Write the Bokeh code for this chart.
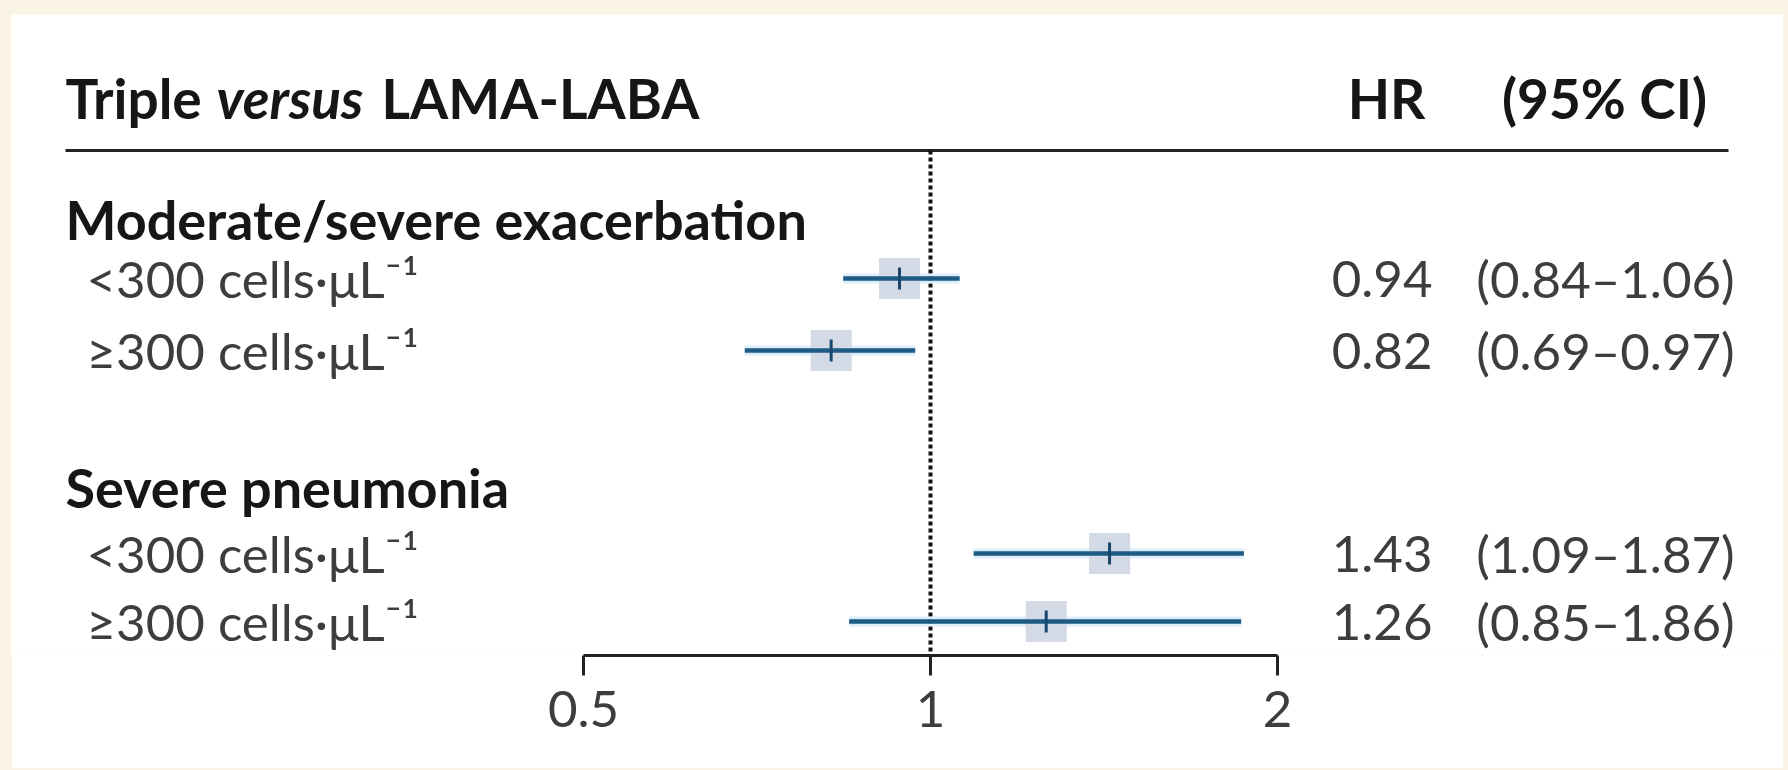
import numpy as np
from bokeh.plotting import figure
from bokeh.models import (Range1d, FixedTicker, ColumnDataSource,
                          CustomJSTickFormatter, GlobalInlineStyleSheet)
from bokeh.core.properties import value
from bokeh.embed import file_html
from bokeh.resources import INLINE

# ---------------- data ----------------
title_parts = ["Triple", "versus", "LAMA-LABA"]
col_headers = ["HR", "(95% CI)"]
groups = ["Moderate/severe exacerbation", "Severe pneumonia"]
subgroups = ["<300 cells·μL⁻¹", "≥300 cells·μL⁻¹",
             "<300 cells·μL⁻¹", "≥300 cells·μL⁻¹"]
hr = [0.94, 0.82, 1.43, 1.26]
ci_low = [0.84, 0.69, 1.09, 0.85]
ci_high = [1.06, 0.97, 1.87, 1.86]
hr_labels = ["0.94", "0.82", "1.43", "1.26"]
ci_labels = ["(0.84–1.06)", "(0.69–0.97)", "(1.09–1.87)", "(0.85–1.86)"]
axis_ticks = [0.5, 1, 2]
null_value = 1

# ---------------- layout (page pixels) ----------------
W, H = 1772, 754
OFF_X, OFF_Y = 11, 14                     # body padding (cream edge)
X_LO_PAGE, X_HI_PAGE = 583, 1277          # where 0.5 and 2 sit
AXIS_Y = 655
PPD = (X_HI_PAGE - X_LO_PAGE) / np.log2(axis_ticks[-1] / axis_ticks[0])


def page_to_x(px):
    return axis_ticks[0] * 2 ** ((px - X_LO_PAGE) / PPD)


row_y = [278, 350, 553, 621]
TXT_SHIFT = -18
group_base = [237 + TXT_SHIFT, 505 + TXT_SHIFT]
title_base = 115 + TXT_SHIFT
rule_y = 150
FONT = "Lato"
INK = "#161616"
GREY = "#3d3d3d"
CREAM = "#faf4e4"
F_TITLE, F_GROUP, F_TEXT = "55px", "54px", "51px"

p = figure(width=W, height=H, x_axis_type="log",
           x_range=Range1d(page_to_x(OFF_X), page_to_x(OFF_X + W)),
           y_range=Range1d(AXIS_Y, OFF_Y),
           y_axis_location=None, toolbar_location=None,
           output_backend="svg", min_border_left=0, min_border_right=0,
           min_border_top=0, min_border_bottom=H - (AXIS_Y - OFF_Y),
           background_fill_color="white", border_fill_color="white",
           outline_line_color=None)
p.stylesheets.append(GlobalInlineStyleSheet(
    css=f"html, body {{ background: {CREAM}; }} "
        f"body {{ margin: 0; padding: {OFF_Y}px 0 0 {OFF_X}px; }}"))
p.xgrid.visible = False
p.ygrid.visible = False

ax = p.xaxis[0]
ax.ticker = FixedTicker(ticks=axis_ticks, minor_ticks=[])
ax.formatter = CustomJSTickFormatter(code="return tick.toString()")
ax.bounds = (axis_ticks[0], axis_ticks[-1])
ax.axis_line_width = 3
ax.axis_line_color = "#222222"
ax.major_tick_line_width = 3
ax.major_tick_line_color = "#222222"
ax.major_tick_out = 20
ax.major_tick_in = 0
ax.minor_tick_line_color = None
ax.major_label_text_font = FONT
ax.major_label_text_font_size = F_TEXT
ax.major_label_text_color = GREY
ax.major_label_standoff = 15

# header rule and null line
p.segment(x0=[page_to_x(65)], x1=[page_to_x(1728)], y0=[rule_y], y1=[rule_y],
          line_width=3, line_color="#222222")
p.segment(x0=[null_value], x1=[null_value], y0=[rule_y], y1=[AXIS_Y],
          line_width=4, line_color="#111111", line_dash="4 3")

src = ColumnDataSource(dict(hr=hr, lo=ci_low, hi=ci_high, y=row_y,
                            lab=subgroups, hrl=hr_labels, cil=ci_labels))

p.segment(x0="lo", x1="hi", y0="y", y1="y", source=src, line_width=10,
          line_color="#c4e3f5", line_alpha=0.6)
p.scatter(x="hr", y="y", source=src, marker="square", size=41,
          fill_color="#d3dae5", line_color=None)
p.segment(x0="lo", x1="hi", y0="y", y1="y", source=src, line_width=4.5,
          line_color="#1d5a84")
p.scatter(x="hr", y="y", source=src, marker="dash", angle=np.pi / 2, size=22,
          line_width=3, line_color="#17476e")

# title
tx = [page_to_x(65), page_to_x(216), page_to_x(381)]
styles = ["bold", "bold italic", "bold"]
for t, x, s in zip(title_parts, tx, styles):
    p.text(x=[x], y=[title_base], text=[t], text_font=value(FONT),
           text_font_size=F_TITLE, text_font_style=s, text_color=INK,
           text_baseline="alphabetic", text_align="left")

p.text(x=[page_to_x(1386)], y=[title_base], text=[col_headers[0]],
       text_font=value(FONT), text_font_size=F_TITLE, text_font_style="bold",
       text_color=INK, text_baseline="alphabetic", text_align="center")
p.text(x=[page_to_x(1604)], y=[title_base], text=[col_headers[1]],
       text_font=value(FONT), text_font_size=F_TITLE, text_font_style="bold",
       text_color=INK, text_baseline="alphabetic", text_align="center")

# group headers
p.text(x=[page_to_x(65)] * len(groups), y=group_base, text=groups,
       text_font=value(FONT), text_font_size=F_GROUP, text_font_style="bold",
       text_color=INK, text_baseline="alphabetic", text_align="left")

# row texts
lab_y = [y + 18 + TXT_SHIFT for y in row_y]
p.text(x=[page_to_x(86)] * 4, y=lab_y, text=subgroups, text_font=value(FONT),
       text_font_size=F_TEXT, text_color=GREY, text_baseline="alphabetic",
       text_align="left")
p.text(x=[page_to_x(1432)] * 4, y=lab_y, text=hr_labels, text_font=value(FONT),
       text_font_size=F_TEXT, text_color=GREY, text_baseline="alphabetic",
       text_align="right")
p.text(x=[page_to_x(1605)] * 4, y=lab_y, text=ci_labels, text_font=value(FONT),
       text_font_size=F_TEXT, text_color=GREY, text_baseline="alphabetic",
       text_align="center")

open("out.html", "w").write(file_html(p, INLINE))
